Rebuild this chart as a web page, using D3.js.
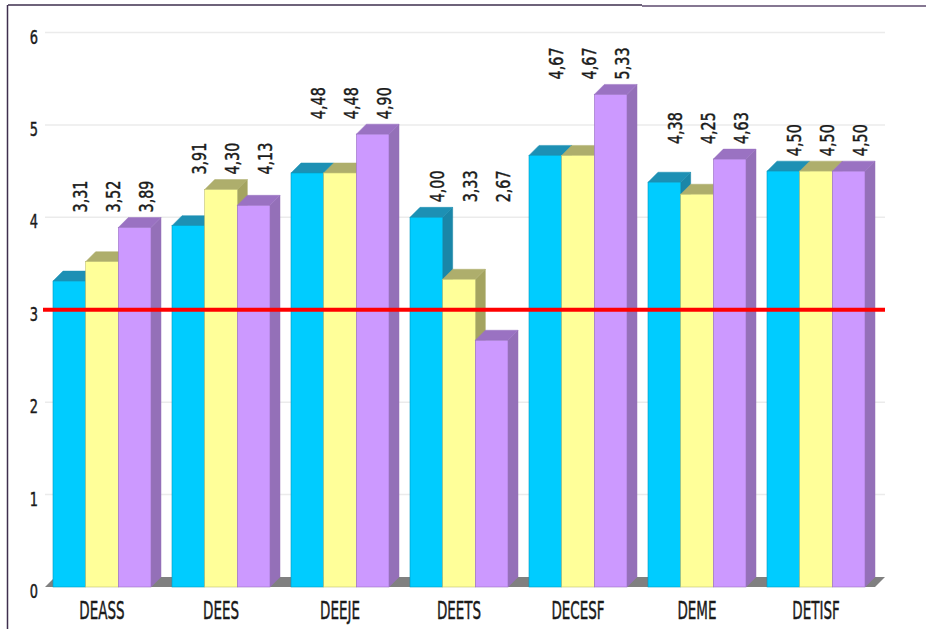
<!DOCTYPE html>
<html>
<head>
<meta charset="utf-8">
<script src="https://cdn.jsdelivr.net/npm/d3@7"></script>
<style>
  html, body { margin: 0; padding: 0; background: #fff; }
  svg { display: block; }
  text { font-family: "DejaVu Sans Condensed", "DejaVu Sans", sans-serif; fill: #1a1a1a; stroke: #1a1a1a; stroke-width: 0.45; }
</style>
</head>
<body>
<svg id="chart" width="926" height="629"></svg>
<script>
const categories = ['DEASS', 'DEES', 'DEEJE', 'DEETS', 'DECESF', 'DEME', 'DETISF'];
const seriesA = [3.31, 3.91, 4.48, 4.00, 4.67, 4.38, 4.50];
const seriesB = [3.52, 4.30, 4.48, 3.33, 4.67, 4.25, 4.50];
const seriesC = [3.89, 4.13, 4.90, 2.67, 5.33, 4.63, 4.50];
const yTicks = [0, 1, 2, 3, 4, 5, 6];
const threshold = 3;

const palette = [
  { front: '#00ccff', top: '#1d90b4', side: '#1a86a8' },
  { front: '#ffff99', top: '#aeae6c', side: '#a4a460' },
  { front: '#cc99ff', top: '#9a72c2', side: '#9470b8' }
];

const depth = 10;
const svg = d3.select('#chart');
const fmt = d3.formatLocale({ decimal: ',', thousands: '.', grouping: [3], currency: ['', ''] }).format('.2f');

const x = d3.scaleBand().domain(categories).range([53, 865]).paddingInner(0.1765).paddingOuter(0);
const xs = d3.scaleBand().domain([0, 1, 2]).range([0, x.bandwidth()]);
const y = d3.scaleLinear().domain([0, 6]).range([587, 32.5]);

const plotLeft = 45;
const plotRight = x.range()[1] + depth * 2;

// frame
svg.append('rect').attr('x', 8).attr('y', 5).attr('width', 918).attr('height', 624).attr('fill', '#fff');
svg.append('line').attr('x1', 8).attr('x2', 642).attr('y1', 5).attr('y2', 5)
  .attr('stroke', '#3e2f4e').attr('stroke-width', 1.5);
svg.append('line').attr('x1', 642).attr('x2', 926).attr('y1', 6).attr('y2', 6)
  .attr('stroke', '#857792').attr('stroke-width', 2);
svg.append('line').attr('x1', 7.5).attr('x2', 7.5).attr('y1', 5).attr('y2', 629)
  .attr('stroke', '#3e2f4e').attr('stroke-width', 1.5);

// grid
svg.append('g').selectAll('line').data(yTicks.filter(d => d > 0)).join('line')
  .attr('x1', plotLeft).attr('x2', plotRight)
  .attr('y1', d => y(d)).attr('y2', d => y(d))
  .attr('stroke', '#ebebeb').attr('stroke-width', 1.5);

// y axis labels
const yAxis = d3.axisLeft(y).tickValues(yTicks).tickFormat(d3.format('d')).tickSize(0).tickPadding(0);
const yAxisG = svg.append('g').attr('transform', 'translate(38,0)').call(yAxis);
yAxisG.select('.domain').remove();
yAxisG.attr('font-family', null).attr('font-size', null);
yAxisG.selectAll('text')
  .attr('x', null).attr('dy', null)
  .attr('transform', 'translate(0,10.5) scale(0.72,1)')
  .attr('font-size', 20)
  .attr('fill', '#1a1a1a');

// floor
const y0 = y(0);
const fl = x.range()[0] - 8, fr = x.range()[1] + depth;
svg.append('path')
  .attr('d', `M${fl},${y0}L${fr},${y0}L${fr + depth},${y0 - depth}L${fl + depth},${y0 - depth}Z`)
  .attr('fill', '#808080');

// bars
const rows = categories.map((c, i) => ({ cat: c, vals: [seriesA[i], seriesB[i], seriesC[i]] }));
const groups = svg.append('g').selectAll('g.group').data(rows).join('g')
  .attr('class', 'group')
  .attr('transform', d => `translate(${x(d.cat)},0)`);

groups.each(function (d) {
  const g = d3.select(this);
  d.vals.forEach((v, k) => {
    const bx = xs(k), bw = xs.bandwidth(), top = y(v), c = palette[k];
    g.append('path')
      .attr('d', `M${bx + bw},${top}L${bx + bw + depth},${top - depth}L${bx + bw + depth},${y0 - depth}L${bx + bw},${y0}Z`)
      .attr('fill', c.side).attr('stroke', c.side).attr('stroke-width', 0.5);
    g.append('path')
      .attr('d', `M${bx},${top}L${bx + depth},${top - depth}L${bx + bw + depth},${top - depth}L${bx + bw},${top}Z`)
      .attr('fill', c.top).attr('stroke', c.top).attr('stroke-width', 0.5);
    g.append('rect')
      .attr('x', bx).attr('y', top).attr('width', bw).attr('height', y0 - top)
      .attr('fill', c.front).attr('stroke', d3.color(c.front).darker(0.8)).attr('stroke-width', 0.6);
  });
});

// threshold line
svg.append('line')
  .attr('x1', plotLeft - 2).attr('x2', plotRight)
  .attr('y1', y(threshold)).attr('y2', y(threshold))
  .attr('stroke', '#ff0000').attr('stroke-width', 4);

// value labels
groups.each(function (d) {
  const g = d3.select(this);
  const base = y(d3.max(d.vals)) - depth - 5;
  g.selectAll('text.val').data(d.vals).join('text')
    .attr('class', 'val')
    .attr('transform', (v, k) => `translate(${xs(k) + xs.bandwidth() / 2 + 18},${base}) rotate(-90) scale(0.84,1)`)
    .attr('font-size', 19)
    .text(v => fmt(v));
});

// category labels
groups.append('text')
  .attr('transform', `translate(${x.bandwidth() / 2},619) scale(0.6,1)`)
  .attr('text-anchor', 'middle')
  .attr('font-size', 25)
  .text(d => d.cat);
</script>
</body>
</html>
